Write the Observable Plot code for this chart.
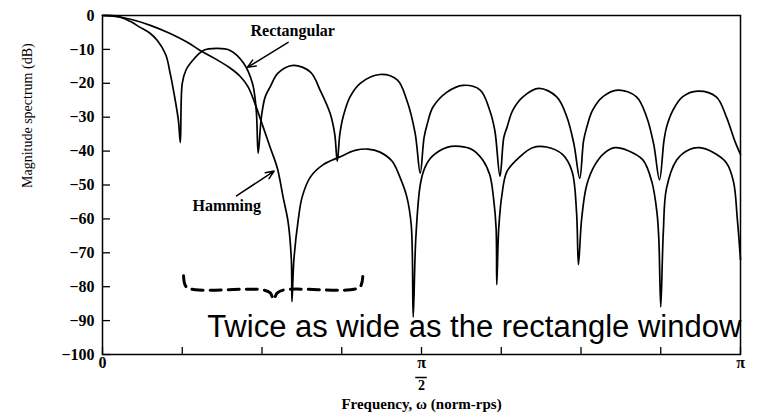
<!DOCTYPE html>
<html><head><meta charset="utf-8">
<script src="https://cdn.jsdelivr.net/npm/d3@7"></script>
<script src="https://cdn.jsdelivr.net/npm/@observablehq/plot@0.6"></script>
<style>
html,body{margin:0;padding:0;background:#fff;}
#chart svg{display:block;}
</style></head><body><div id="chart"></div>
<script>
// Frequency in units of pi (norm-rps / pi), magnitude in dB
const rectFreq = [0,0.023,0.044,0.059,0.075,0.086,0.099,0.106,0.114,0.119,0.122,0.125,0.131,0.138,0.158,0.180,0.200,0.221,0.235,0.241,0.244,0.249,0.255,0.263,0.275,0.299,0.326,0.341,0.357,0.364,0.368,0.372,0.377,0.388,0.404,0.435,0.462,0.477,0.490,0.498,0.504,0.509,0.518,0.540,0.565,0.592,0.607,0.615,0.623,0.629,0.634,0.643,0.659,0.684,0.712,0.728,0.739,0.748,0.754,0.759,0.768,0.784,0.808,0.837,0.853,0.864,0.873,0.880,0.884,0.894,0.909,0.933,0.962,0.978,0.991,1.000];
const rectDb = [0,-0.2,-1.8,-3.5,-5.3,-7.4,-11.5,-17,-25,-31,-37.5,-20,-16,-14,-10.3,-9.7,-10.3,-14,-20,-28,-40.6,-30,-24,-21,-17,-14.7,-16.7,-22,-29,-35,-43,-35,-30,-24,-20,-17.4,-19,-25,-34.7,-46.5,-36,-32,-27,-22.6,-20.6,-22,-28,-34,-47.4,-36,-33,-28,-24,-21.5,-24,-30,-38,-48,-37,-33,-28,-24,-22,-24,-30,-38,-48.5,-37,-33,-28,-24,-22.3,-24,-30,-37,-41];
const hammFreq = [0,0.020,0.044,0.075,0.106,0.133,0.153,0.177,0.200,0.216,0.228,0.239,0.252,0.263,0.274,0.283,0.291,0.296,0.297,0.300,0.307,0.313,0.326,0.346,0.372,0.396,0.416,0.435,0.454,0.466,0.477,0.484,0.487,0.491,0.498,0.505,0.516,0.540,0.560,0.579,0.596,0.607,0.613,0.617,0.618,0.621,0.626,0.634,0.654,0.674,0.696,0.721,0.736,0.743,0.746,0.751,0.759,0.772,0.787,0.803,0.823,0.847,0.861,0.869,0.872,0.875,0.879,0.884,0.900,0.920,0.936,0.956,0.978,0.989,0.995,1.000];
const hammDb = [0,-0.3,-1.1,-2.9,-5.3,-7.9,-10.3,-12.8,-15.5,-18,-21,-26,-33,-39,-45,-53.5,-61,-72,-84.4,-72,-60,-53.5,-47.6,-44,-41.7,-39.8,-39.4,-40.3,-43,-47.6,-53.5,-62,-89,-66,-50,-45,-41.7,-38.9,-38.6,-39.5,-42.6,-47,-54,-63,-79.4,-63,-53,-46,-41.7,-39,-38.8,-41,-46,-58,-73.5,-60,-50,-44,-40.5,-39,-39.8,-42.6,-49,-58,-66,-86,-64,-51,-42.6,-39.5,-39,-40.3,-43.5,-49,-60,-72];

const yTicks = [0,-10,-20,-30,-40,-50,-60,-70,-80,-90,-100];
const xTicks = [0,0.125,0.25,0.375,0.5,0.625,0.75,0.875,1];
const xLabelPos = [0, 0.5, 1];
const xLabelTop = ["0", "π", "π"];
const xLabelBottom = ["", "2", ""];
const fracBarFrom = [0.491];
const fracBarTo = [0.509];

// annotations
const braceFreq = [0.127,0.131,0.146,0.250,0.263,0.268,0.274,0.286,0.388,0.404,0.408];
const braceDb = [-76.8,-80,-80.9,-80.9,-81.8,-83.8,-81.8,-80.9,-80.9,-80,-77];
const labelNames = ["Rectangular","Hamming"];
const labelFreq = [0.232, 0.141];
const labelDb = [-6.0, -57.6];
const arrowFrom = [[0.291,-7.9],[0.210,-53.2]];
const arrowTo = [[0.227,-15.3],[0.269,-45.9]];
const noteText = "Twice as wide as the rectangle window";
const notePos = [0.164, -94.7];

const rect = rectFreq.map((x,i)=>({x, y: rectDb[i]}));
const hamm = hammFreq.map((x,i)=>({x, y: hammDb[i]}));
const brace = braceFreq.map((x,i)=>({x, y: braceDb[i]}));
const xLabels = xLabelPos.map((x,i)=>({x, top: xLabelTop[i], bottom: xLabelBottom[i]}));
const fracBars = fracBarFrom.map((x1,i)=>({x1, x2: fracBarTo[i], y: -100}));
const labels = labelNames.map((t,i)=>({t, x: labelFreq[i], y: labelDb[i]}));
const arrows = arrowFrom.map((f,i)=>({x1:f[0], y1:f[1], x2:arrowTo[i][0], y2:arrowTo[i][1]}));

const serif = "'Liberation Serif','Times New Roman',serif";
const fmtY = d => d === 0 ? "0" : "\u2212" + Math.abs(d);

const chart = Plot.plot({
  width: 761, height: 417,
  marginLeft: 102, marginRight: 21, marginTop: 15, marginBottom: 63,
  x: {domain: [0, 1]},
  y: {domain: [-100, 0]},
  style: {fontFamily: serif, background: "#fff", color: "#000", overflow: "visible"},
  marks: [
    Plot.axisY({ticks: yTicks, tickSize: -8, tickPadding: 16, tickFormat: fmtY, fontSize: 16, fontWeight: "bold", label: null, strokeWidth: 1.3}),
    Plot.axisX({ticks: xTicks, tickSize: -7, tickFormat: () => "", label: null, strokeWidth: 1.3}),
    Plot.frame({stroke: "#000", strokeWidth: 1.5}),
    Plot.line(rect, {x: "x", y: "y", stroke: "#000", strokeWidth: 1.7, curve: "catmull-rom"}),
    Plot.line(hamm, {x: "x", y: "y", stroke: "#000", strokeWidth: 1.7, curve: "catmull-rom"}),
    Plot.text(xLabels, {x: "x", text: "top", frameAnchor: "bottom", dy: 13, fontSize: 16, fontWeight: "bold"}),
    Plot.text(xLabels, {x: "x", text: "bottom", frameAnchor: "bottom", dy: 35, fontSize: 14, fontWeight: "bold"}),
    Plot.ruleY(fracBars, {x1: "x1", x2: "x2", y: "y", dy: 23, stroke: "#000", strokeWidth: 1.5}),
    Plot.text(["Frequency, \u03c9 (norm-rps)"], {text: d => d, frameAnchor: "bottom", dy: 54, fontSize: 15, fontWeight: "bold"}),
    Plot.text(["Magnitude spectrum (dB)"], {text: d => d, frameAnchor: "left", rotate: -90, dx: -75, dy: 3, fontSize: 14}),
    Plot.text(labels, {x: "x", y: "y", text: "t", textAnchor: "start", fontSize: 16, fontWeight: "bold", lineAnchor: "bottom"}),
    Plot.arrow(arrows, {x1: "x1", y1: "y1", x2: "x2", y2: "y2", stroke: "#000", strokeWidth: 1.5, headLength: 9, headAngle: 45}),
    Plot.line(brace, {x: "x", y: "y", stroke: "#000", strokeWidth: 3, strokeDasharray: "11,7", curve: "catmull-rom"}),
    Plot.text([noteText], {x: () => notePos[0], y: () => notePos[1], text: d => d, textAnchor: "start", lineAnchor: "bottom", fontSize: 31, fontFamily: "'Liberation Sans',Arial,sans-serif"})
  ]
});
document.getElementById("chart").appendChild(chart);
</script></body></html>
